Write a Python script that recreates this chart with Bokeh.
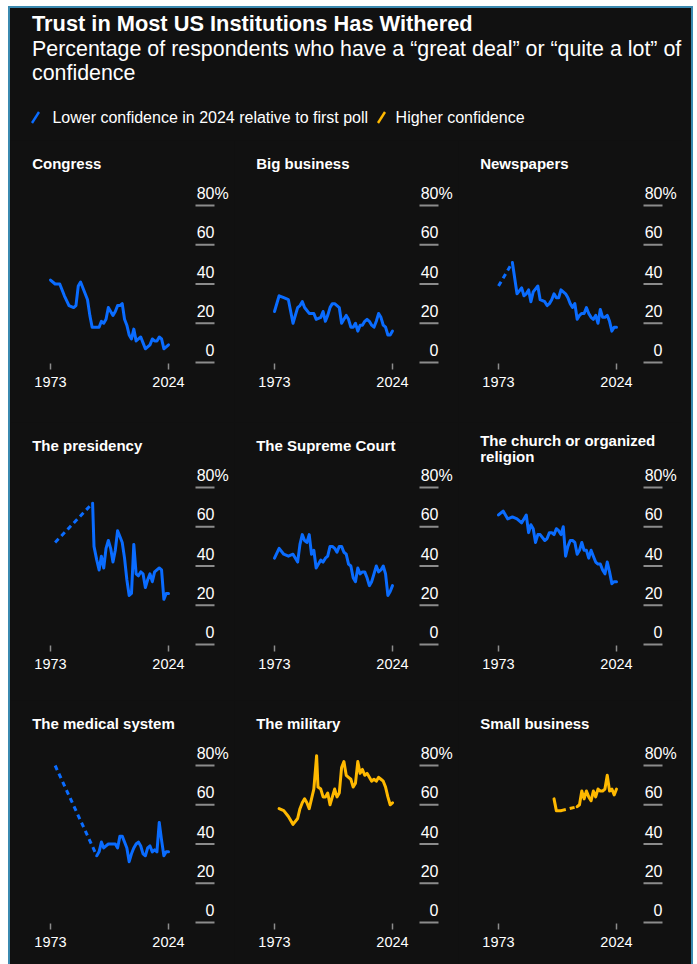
from bokeh.plotting import figure
from bokeh.models import Range1d, Div
from bokeh.layouts import column, row
from bokeh.embed import file_html
from bokeh.resources import INLINE
from bokeh.core.properties import value

# ---------------- data ----------------
TITLE = "Trust in Most US Institutions Has Withered"
SUBTITLE = "Percentage of respondents who have a “great deal” or “quite a lot” of confidence"
LEGEND_LOWER = "Lower confidence in 2024 relative to first poll"
LEGEND_HIGHER = "Higher confidence"

X_TICKS = [1973, 2024]
X_TICK_LABELS = ["1973", "2024"]
Y_TICKS = [0, 20, 40, 60, 80]
Y_TICK_LABELS = ["0", "20", "40", "60", "80"]
Y_SUFFIX = "%"

congress_years = [1973, 1975, 1977, 1979, 1981, 1983, 1984, 1985, 1986, 1988, 1989, 1990, 1991,
                  1993, 1994, 1995, 1996, 1997, 1998, 1999, 2000, 2001, 2002, 2003, 2004, 2005,
                  2006, 2007, 2008, 2009, 2010, 2011, 2012, 2013, 2014, 2015, 2016, 2017, 2018,
                  2019, 2020, 2021, 2022, 2023, 2024]
congress_values = [42, 40, 40, 34, 29, 28, 29, 39, 41, 35, 32, 24, 18,
                   18, 18, 21, 20, 22, 28, 26, 24, 26, 29, 29, 30, 22,
                   19, 14, 12, 17, 11, 12, 13, 10, 7, 8, 9, 12, 11,
                   11, 13, 12, 7, 8, 9]

big_business_years = [1973, 1975, 1977, 1979, 1981, 1983, 1984, 1985, 1986, 1988, 1990, 1991,
                      1993, 1994, 1995, 1996, 1997, 1998, 1999, 2000, 2001, 2002, 2003, 2004,
                      2005, 2006, 2007, 2008, 2009, 2010, 2011, 2012, 2013, 2014, 2015, 2016,
                      2017, 2018, 2019, 2020, 2021, 2022, 2023, 2024]
big_business_values = [26, 34, 33, 32, 20, 28, 29, 31, 28, 25, 25, 22,
                       23, 26, 21, 24, 28, 30, 30, 29, 28, 20, 22, 24,
                       22, 18, 18, 20, 16, 19, 19, 21, 22, 21, 19, 18,
                       21, 25, 23, 19, 18, 14, 14, 16]

newspapers_years = [1973, 1979, 1981, 1983, 1984, 1985, 1986, 1987, 1988, 1990, 1991,
                    1993, 1994, 1995, 1996, 1997, 1998, 1999, 2000, 2001, 2002, 2003, 2004,
                    2005, 2006, 2007, 2008, 2009, 2010, 2011, 2012, 2013, 2014, 2015, 2016,
                    2017, 2018, 2019, 2020, 2021, 2022, 2023, 2024]
newspapers_values = [39, 51, 35, 38, 34, 35, 37, 31, 36, 39, 32,
                     31, 29, 30, 32, 35, 33, 33, 37, 36, 35, 33, 30,
                     28, 30, 22, 24, 25, 25, 28, 25, 23, 22, 24, 20,
                     27, 23, 23, 24, 21, 16, 18, 18]

presidency_years = [1975, 1991.2, 1991.8, 1993, 1994, 1995, 1996, 1997, 1998, 1999, 2000, 2001,
                    2002, 2003, 2004, 2005, 2006, 2007, 2008, 2009, 2010, 2011, 2012, 2013,
                    2014, 2015, 2016, 2017, 2018, 2019, 2020, 2021, 2022, 2023, 2024]
presidency_values = [52, 72, 50, 43, 38, 45, 39, 49, 53, 49, 42, 48,
                     58, 55, 52, 44, 33, 25, 26, 51, 36, 35, 37, 36,
                     29, 33, 36, 32, 37, 38, 39, 38, 23, 26, 26]

supreme_court_years = [1973, 1975, 1977, 1979, 1981, 1983, 1984, 1985, 1986, 1987, 1988, 1989,
                       1990, 1991, 1993, 1994, 1995, 1996, 1997, 1998, 1999, 2000, 2001, 2002,
                       2003, 2004, 2005, 2006, 2007, 2008, 2009, 2010, 2011, 2012, 2013, 2014,
                       2015, 2016, 2017, 2018, 2019, 2020, 2021, 2022, 2023, 2024]
supreme_court_values = [44, 49, 46, 45, 46, 42, 51, 56, 53, 52, 56, 46,
                        48, 39, 43, 42, 44, 45, 50, 50, 49, 47, 50, 50,
                        47, 46, 41, 40, 34, 32, 39, 36, 37, 37, 34, 30,
                        32, 36, 40, 37, 38, 40, 36, 25, 27, 30]

church_years = [1973, 1975, 1977, 1979, 1981, 1983, 1984, 1985, 1986, 1987, 1988, 1989, 1990,
                1991, 1993, 1994, 1995, 1996, 1997, 1998, 1999, 2000, 2001, 2002, 2003, 2004,
                2005, 2006, 2007, 2008, 2009, 2010, 2011, 2012, 2013, 2014, 2015, 2016, 2017,
                2018, 2019, 2020, 2021, 2022, 2023, 2024]
church_values = [66, 68, 64, 65, 64, 62, 64, 66, 57, 61, 59, 52, 56,
                 56, 53, 54, 57, 57, 56, 59, 58, 56, 60, 45, 50, 53,
                 53, 52, 46, 48, 52, 48, 48, 44, 48, 45, 42, 41, 41,
                 38, 36, 42, 37, 31, 32, 32]

medical_years = [1975, 1993, 1994, 1995, 1996, 1997, 1998, 1999, 2000, 2001, 2002, 2003, 2004,
                 2005, 2006, 2007, 2008, 2009, 2010, 2011, 2012, 2013, 2014, 2015, 2016, 2017,
                 2018, 2019, 2020, 2021, 2022, 2023, 2024]
medical_values = [80, 34, 36, 41, 38, 39, 40, 40, 40, 40, 38, 44, 44,
                  41, 38, 31, 35, 38, 40, 41, 39, 35, 34, 38, 39, 36,
                  37, 36, 51, 42, 34, 36, 36]

military_years = [1975, 1977, 1979, 1981, 1983, 1984, 1985, 1986, 1987, 1988, 1989, 1990,
                  1991.2, 1991.8, 1993, 1994, 1995, 1996, 1997, 1998, 1999, 2000, 2001, 2002,
                  2003, 2004, 2005, 2006, 2007, 2008, 2009, 2010, 2011, 2012, 2013, 2014,
                  2015, 2016, 2017, 2018, 2019, 2020, 2021, 2022, 2023, 2024]
military_values = [58, 57, 54, 50, 53, 58, 61, 63, 61, 58, 63, 68,
                   85, 69, 68, 64, 64, 66, 60, 64, 68, 64, 66, 79,
                   82, 75, 74, 73, 69, 71, 82, 76, 78, 75, 76, 74,
                   72, 73, 72, 74, 73, 72, 69, 64, 60, 61]

small_business_years = [1997, 1998, 2000, 2007, 2008, 2009, 2010, 2011, 2012, 2013, 2014, 2015,
                        2016, 2017, 2018, 2019, 2020, 2021, 2022, 2023, 2024]
small_business_values = [63, 57, 57, 59, 60, 67, 63, 67, 64, 62, 67, 64,
                         68, 67, 67, 68, 75, 67, 68, 65, 68]

PANELS = [
    ("Congress", congress_years, congress_values),
    ("Big business", big_business_years, big_business_values),
    ("Newspapers", newspapers_years, newspapers_values),
    ("The presidency", presidency_years, presidency_values),
    ("The Supreme Court", supreme_court_years, supreme_court_values),
    ("The church or organized\nreligion", church_years, church_values),
    ("The medical system", medical_years, medical_values),
    ("The military", military_years, military_values),
    ("Small business", small_business_years, small_business_values),
]

# ---------------- style / layout ----------------
BG = "#111111"
BLUE = "#0a6cff"
ORANGE = "#ffb900"
TICK_COLOR = "#8c8c8c"
FONT = "Liberation Sans"

PANEL_W = 224
ROW_H = [282, 278, 266]
ZERO_FROM_TOP = 222          # px from panel top to the 0 line
FIRST_TICK_PX = 40           # px from panel left to the first year tick
PX_PER_YEAR = 118 / 51
PX_PER_PCT = 39.25 / 20
GRID_X0_PX, GRID_X1_PX = 145, 164   # right-hand tick bars, px right of first year tick
TITLE_X_PX = -18.3
Y_LABEL_RISE = 12.5
GAP_YEARS = 2.5

X_START = X_TICKS[0] - FIRST_TICK_PX / PX_PER_YEAR
X_END = X_START + PANEL_W / PX_PER_YEAR
GRID_X0 = X_TICKS[0] + GRID_X0_PX / PX_PER_YEAR
GRID_X1 = X_TICKS[0] + GRID_X1_PX / PX_PER_YEAR
TITLE_X = X_TICKS[0] + TITLE_X_PX / PX_PER_YEAR


def make_panel(name, years, vals, height):
    y_top = ZERO_FROM_TOP / PX_PER_PCT
    y_bot = -(height - ZERO_FROM_TOP) / PX_PER_PCT
    p = figure(width=PANEL_W, height=height, output_backend="svg", toolbar_location=None,
               x_range=Range1d(X_START, X_END), y_range=Range1d(y_bot, y_top),
               x_axis_location=None, y_axis_location=None,
               min_border_left=0, min_border_right=0, min_border_top=0, min_border_bottom=0,
               background_fill_color=BG, border_fill_color=BG, outline_line_color=None)
    p.grid.visible = False

    # right-hand value ticks (horizontal bars) and their labels
    n = len(Y_TICKS)
    p.segment(x0=[GRID_X0] * n, y0=Y_TICKS, x1=[GRID_X1] * n, y1=Y_TICKS,
              line_color=TICK_COLOR, line_width=2)
    p.text(x=[GRID_X1] * n, y=Y_TICKS, text=Y_TICK_LABELS, y_offset=-Y_LABEL_RISE,
           text_align="right", text_baseline="alphabetic", text_color="#ffffff",
           text_font=value(FONT), text_font_size="16px")
    p.text(x=[GRID_X1], y=[Y_TICKS[-1]], text=[Y_SUFFIX], y_offset=-Y_LABEL_RISE,
           text_align="left", text_baseline="alphabetic", text_color="#ffffff",
           text_font=value(FONT), text_font_size="16px")

    # year ticks and labels
    p.segment(x0=X_TICKS, y0=[-1 / PX_PER_PCT] * 2, x1=X_TICKS, y1=[-7 / PX_PER_PCT] * 2,
              line_color=TICK_COLOR, line_width=1.5)
    p.text(x=X_TICKS, y=[0, 0], text=X_TICK_LABELS, y_offset=14,
           text_align="center", text_baseline="top", text_color="#ffffff",
           text_font=value(FONT), text_font_size="14.5px")

    # data
    color = BLUE if vals[-1] < vals[0] else ORANGE
    solid_xs, solid_ys, dash_xs, dash_ys = [], [], [], []
    cur_x, cur_y = [years[0]], [vals[0]]
    for i in range(1, len(years)):
        if years[i] - years[i - 1] > GAP_YEARS:
            dash_xs.append([years[i - 1], years[i]])
            dash_ys.append([vals[i - 1], vals[i]])
            if len(cur_x) > 1:
                solid_xs.append(cur_x)
                solid_ys.append(cur_y)
            cur_x, cur_y = [years[i]], [vals[i]]
        else:
            cur_x.append(years[i])
            cur_y.append(vals[i])
    if len(cur_x) > 1:
        solid_xs.append(cur_x)
        solid_ys.append(cur_y)
    if dash_xs:
        p.multi_line(xs=dash_xs, ys=dash_ys, line_color=color, line_width=3, line_dash="5 4")
    p.multi_line(xs=solid_xs, ys=solid_ys, line_color=color, line_width=3,
                 line_join="round", line_cap="round")

    # panel title
    lines = name.split("\n")
    top_off = 199.3 + 5 * (len(lines) - 1)
    for k, line in enumerate(lines):
        p.text(x=[TITLE_X], y=[0], text=[line], y_offset=-(top_off - 16.7 * k),
               text_align="left", text_baseline="middle", text_color="#ffffff",
               text_font=value(FONT), text_font_size="15px", text_font_style="bold")
    return p


slash = ('<svg style="position:absolute;left:{left}px;top:102px" width="12" height="15">'
         '<line x1="2" y1="13" x2="9" y2="2" stroke="{color}" stroke-width="2.4"/></svg>')

header_html = (
    f'<div style="position:relative;width:681px;height:132px;font-family:\'{FONT}\',Arial,sans-serif;color:#ffffff;">'
    f'<div style="position:absolute;left:22px;top:5.3px;font-size:21.8px;font-weight:bold;line-height:21.8px;white-space:nowrap;">{TITLE}</div>'
    f'<div style="position:absolute;left:22px;top:29.1px;width:655px;font-size:21.4px;line-height:24.3px;">{SUBTITLE}</div>'
    + slash.format(left=20, color=BLUE)
    + f'<div style="position:absolute;left:42.4px;top:101.8px;font-size:16px;line-height:16px;white-space:nowrap;">{LEGEND_LOWER}</div>'
    + slash.format(left=366, color=ORANGE)
    + f'<div style="position:absolute;left:385.6px;top:101.8px;font-size:16px;line-height:16px;white-space:nowrap;">{LEGEND_HIGHER}</div>'
    '</div>'
)
header = Div(text=header_html, width=681, height=132, margin=0,
             styles={"background-color": BG})

rows = []
for r in range(3):
    figs = [make_panel(*PANELS[3 * r + c], ROW_H[r]) for c in range(3)]
    rows.append(row(*figs, spacing=0))

layout = column(header, *rows, spacing=0, margin=(8, 0, 0, 10),
                styles={"background-color": BG, "outline": "2px solid #3b8ab0"})

html = file_html(layout, INLINE, title="Trust in Most US Institutions Has Withered")
html = html.replace("<body>", '<body style="background-color:#e9eef1;">', 1)
open("out.html", "w", encoding="utf-8").write(html)
